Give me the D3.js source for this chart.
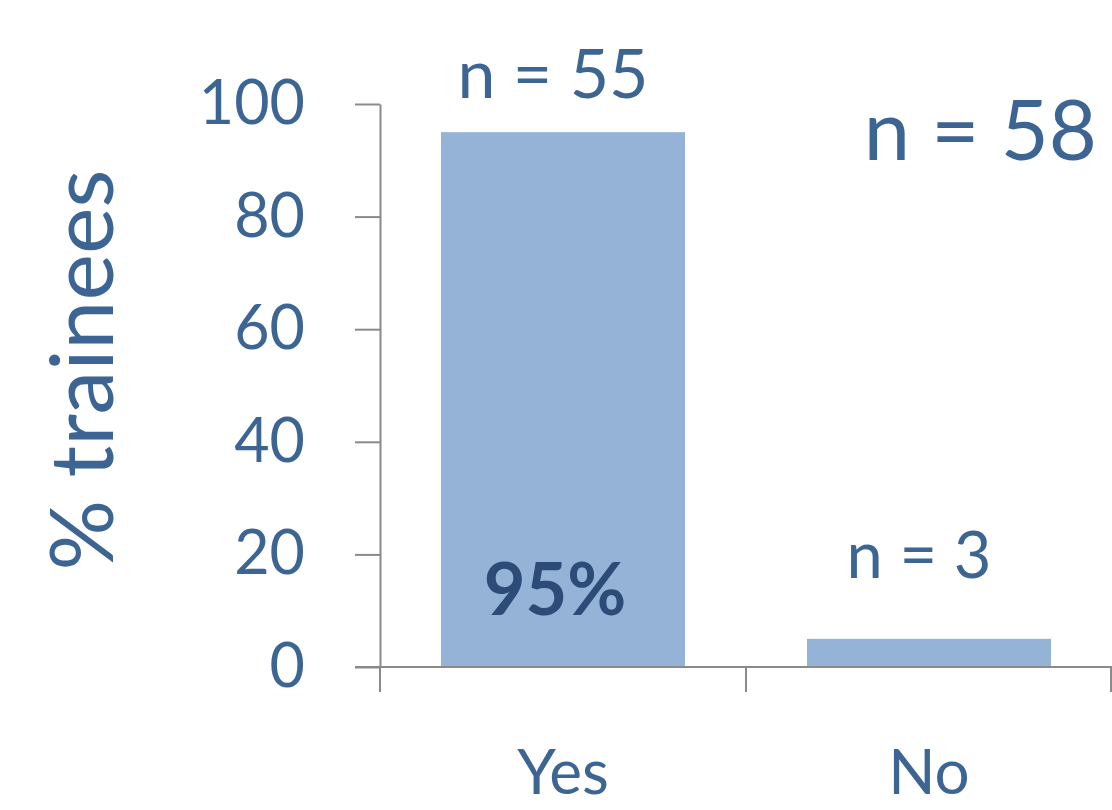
<!DOCTYPE html>
<html>
<head>
<meta charset="utf-8">
<script src="https://cdn.jsdelivr.net/npm/d3@7"></script>
<style>
  html, body { margin: 0; padding: 0; background: #fff; }
  svg { display: block; font-family: Lato, "Open Sans", sans-serif; }
</style>
</head>
<body>
<svg id="chart" width="1112" height="810"></svg>
<script>
const categories = ["Yes", "No"];
const percents = [95, 5];
const counts = [55, 3];
const yTicks = [0, 20, 40, 60, 80, 100];
const totalLabel = "n = 58";
const yTitle = "% trainees";

const svg = d3.select("#chart");
const textColor = "#3d6594";
const axisColor = "#8a8a8a";
const barColor = "#95b3d7";

const x = d3.scaleBand()
    .domain(categories)
    .range([380, 1112])
    .paddingInner(1 / 3)
    .paddingOuter(1 / 6);

const y = d3.scaleLinear()
    .domain([0, 100])
    .range([667, 104]);

// bars
svg.selectAll(".bar")
    .data(categories)
    .join("rect")
    .attr("class", "bar")
    .attr("x", d => x(d))
    .attr("y", (d, i) => y(percents[i]))
    .attr("width", x.bandwidth())
    .attr("height", (d, i) => y(0) - y(percents[i]))
    .attr("fill", barColor);

// y axis
const yAxis = svg.append("g")
    .attr("transform", "translate(380,0)")
    .call(d3.axisLeft(y).tickValues(yTicks).tickSize(25).tickSizeOuter(0).tickPadding(50));
yAxis.select(".domain").attr("stroke", axisColor).attr("stroke-width", 2);
yAxis.selectAll(".tick line").attr("stroke", axisColor).attr("stroke-width", 2);
yAxis.selectAll(".tick text")
    .attr("fill", textColor)
    .attr("font-size", 61)
    .attr("font-family", "Lato, sans-serif");

// x axis line and category boundary ticks
const step = x.step();
const bounds = d3.range(categories.length + 1).map(i => x.range()[0] + i * step);
svg.append("line")
    .attr("x1", 355).attr("x2", 1112)
    .attr("y1", y(0)).attr("y2", y(0))
    .attr("stroke", axisColor).attr("stroke-width", 2);
svg.selectAll(".xtick")
    .data(bounds)
    .join("line")
    .attr("class", "xtick")
    .attr("x1", d => Math.min(d, 1111)).attr("x2", d => Math.min(d, 1111))
    .attr("y1", y(0)).attr("y2", y(0) + 25)
    .attr("stroke", axisColor).attr("stroke-width", 2);

// category labels
svg.selectAll(".cat")
    .data(categories)
    .join("text")
    .attr("class", "cat")
    .attr("x", d => x(d) + x.bandwidth() / 2)
    .attr("y", 794)
    .attr("text-anchor", "middle")
    .attr("fill", textColor)
    .attr("font-size", 62)
    .text(d => d);

// n labels above bars
svg.selectAll(".nlab")
    .data(categories)
    .join("text")
    .attr("class", "nlab")
    .attr("x", d => x(d) + x.bandwidth() / 2 - 10)
    .attr("y", (d, i) => i === 0 ? y(percents[i]) - 34 : y(percents[i]) - 61)
    .attr("text-anchor", "middle")
    .attr("fill", textColor)
    .attr("font-size", (d, i) => i === 0 ? 68 : 65)
    .text((d, i) => "n = " + counts[i]);

// percentage inside first bar
svg.append("text")
    .attr("x", x(categories[0]) + x.bandwidth() / 2 - 8)
    .attr("y", 615)
    .attr("text-anchor", "middle")
    .attr("fill", "#2c4b76")
    .attr("font-size", 72)
    .attr("font-weight", "bold")
    .text(percents[0] + "%");

// total n
svg.append("text")
    .attr("x", 1097)
    .attr("y", 160)
    .attr("text-anchor", "end")
    .attr("fill", textColor)
    .attr("font-size", 83)
    .text(totalLabel);

// y title
svg.append("text")
    .attr("transform", "translate(113,370) rotate(-90)")
    .attr("text-anchor", "middle")
    .attr("fill", textColor)
    .attr("font-size", 88)
    .text(yTitle);
</script>
</body>
</html>
